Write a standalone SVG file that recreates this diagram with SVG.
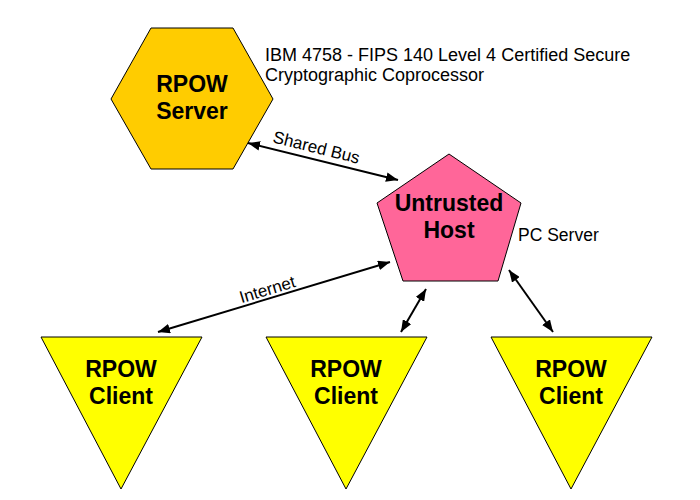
<svg xmlns="http://www.w3.org/2000/svg" width="700" height="500" viewBox="0 0 700 500">
<style>
.shape{stroke:#000;stroke-width:1}
.lbl{font-family:"Liberation Sans",Arial,sans-serif;font-weight:bold;font-size:23px;text-anchor:middle;fill:#000}
.note{font-family:"Liberation Sans",Arial,sans-serif;font-size:17.5px;fill:#000}
.ibm{font-size:18px}
.conn{font-family:"Liberation Sans",Arial,sans-serif;font-size:17px;fill:#000;text-anchor:middle}
.edge{stroke:#000;stroke-width:2;fill:none;marker-start:url(#ah);marker-end:url(#ah)}
</style>
<defs>
<marker id="ah" viewBox="0 0 10 8" refX="10" refY="4" markerWidth="6" markerHeight="4.8" orient="auto-start-reverse" markerUnits="strokeWidth">
<path d="M0,0 L10,4 L0,8 z" fill="#000"/>
</marker>
</defs>
<rect width="700" height="500" fill="#fff"/>
<g id="server">
<polygon class="shape" fill="#FFCC00" points="151,28 233,28 273,99 233,169 151,169 111,99"/>
<text class="lbl" x="192" y="92">RPOW</text>
<text class="lbl" x="192" y="119">Server</text>
</g>
<g id="server-note">
<text class="note ibm" x="265" y="61">IBM 4758 - FIPS 140 Level 4 Certified Secure</text>
<text class="note ibm" x="265" y="81">Cryptographic Coprocessor</text>
</g>
<g id="host">
<polygon class="shape" fill="#FF6699" points="449,154 521,203 498,281 403,281 377,203"/>
<text class="lbl" x="449" y="211">Untrusted</text>
<text class="lbl" x="449" y="238">Host</text>
<text class="note" x="518" y="241">PC Server</text>
</g>
<g id="client1">
<polygon class="shape" fill="#FFFF00" points="41,337 202,337 121,489"/>
<text class="lbl" x="121" y="377">RPOW</text>
<text class="lbl" x="121" y="404">Client</text>
</g>
<g id="client2">
<polygon class="shape" fill="#FFFF00" points="266,337 427,337 346,489"/>
<text class="lbl" x="346" y="377">RPOW</text>
<text class="lbl" x="346" y="404">Client</text>
</g>
<g id="client3">
<polygon class="shape" fill="#FFFF00" points="491,337 652,337 571,489"/>
<text class="lbl" x="571" y="377">RPOW</text>
<text class="lbl" x="571" y="404">Client</text>
</g>
<g id="connectors">
<line class="edge" x1="248" y1="143" x2="398" y2="180"/>
<text class="conn" transform="translate(315,153) rotate(13.9)">Shared Bus</text>
<line class="edge" x1="158" y1="332" x2="390" y2="262"/>
<text class="conn" transform="translate(269,295) rotate(-16.8)">Internet</text>
<line class="edge" x1="401" y1="332" x2="426" y2="289"/>
<line class="edge" x1="509" y1="270" x2="553" y2="332"/>
</g>
</svg>
